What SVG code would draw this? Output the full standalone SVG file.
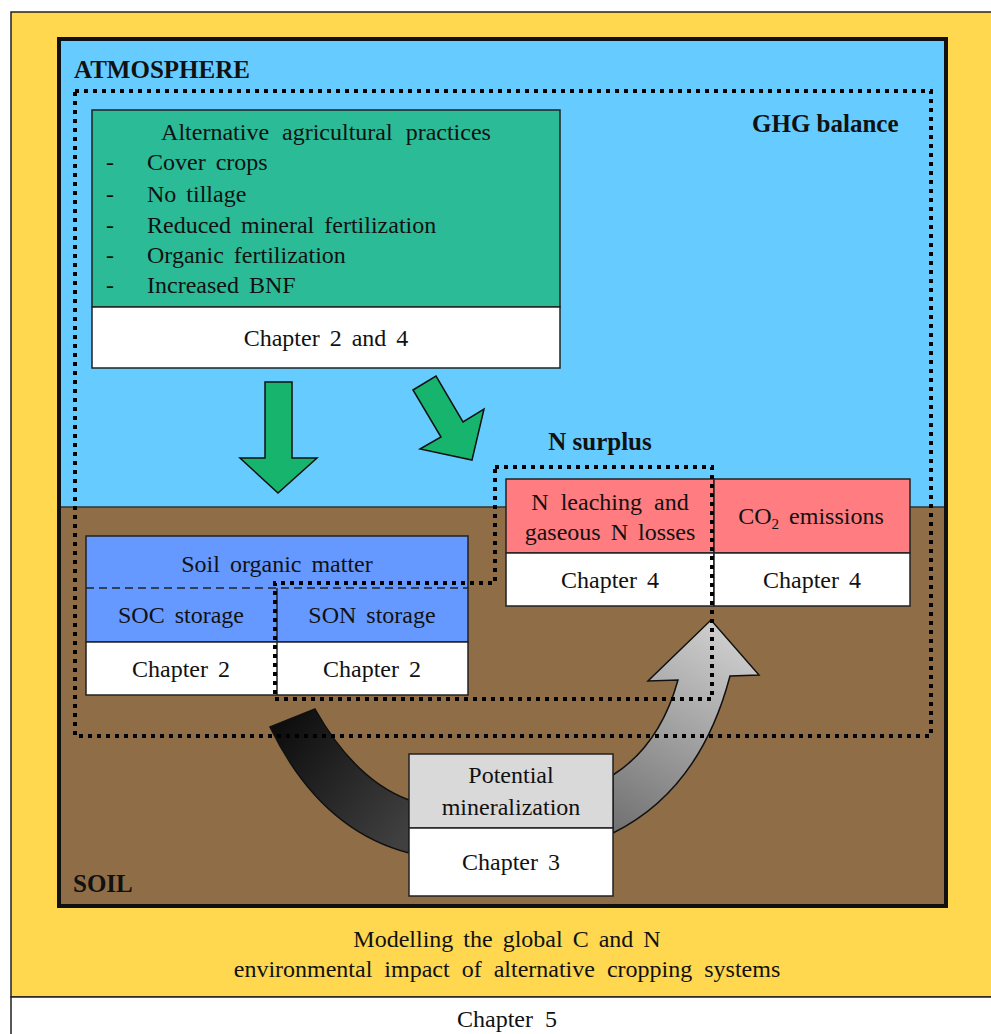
<svg xmlns="http://www.w3.org/2000/svg" width="991" height="1034" viewBox="0 0 991 1034" font-family="'Liberation Serif','Times New Roman',serif">
<defs>
<style>
text{font-family:"Liberation Serif","Times New Roman",serif;fill:#111;}
.t{font-size:24px;word-spacing:4px;}
.c{text-anchor:middle;}
.b{font-weight:bold;font-size:25px;}
.box{stroke:#222;stroke-width:1.5;}
.dot{fill:none;stroke:#000;stroke-width:4;stroke-dasharray:4 5;}
.arr{fill:#17B46E;stroke:#111;stroke-width:1.5;stroke-linejoin:miter;}
</style>
<linearGradient id="gBlack" x1="270" y1="720" x2="409" y2="830" gradientUnits="userSpaceOnUse">
<stop offset="0" stop-color="#0a0a0a"/>
<stop offset="1" stop-color="#404040"/>
</linearGradient>
<linearGradient id="gGrey" x1="613" y1="833" x2="735" y2="630" gradientUnits="userSpaceOnUse">
<stop offset="0" stop-color="#707070"/>
<stop offset="1" stop-color="#d0d0d0"/>
</linearGradient>
</defs>

<g id="frame">
<rect x="11" y="12" width="990" height="985" fill="#FFD84F" stroke="#222" stroke-width="1.5"/>
<rect x="59" y="39" width="887" height="468" fill="#66CCFF"/>
<rect x="59" y="507" width="887" height="399" fill="#8F6E47"/>
<line x1="59" y1="507" x2="946" y2="507" stroke="#333" stroke-width="1.5"/>
<rect x="59" y="39" width="887" height="867" fill="none" stroke="#111" stroke-width="4"/>
<text class="b" x="74" y="78">ATMOSPHERE</text>
<text class="b" x="73" y="892">SOIL</text>
<text class="t c" x="507" y="947" style="word-spacing:4px">Modelling the global C and N</text>
<text class="t c" x="507" y="977" style="word-spacing:6px">environmental impact of alternative cropping systems</text>
</g>

<g id="chapter5">
<rect x="11" y="997" width="990" height="50" fill="#fff" stroke="#222" stroke-width="1.5"/>
<text class="t c" x="507" y="1027" style="word-spacing:6px">Chapter 5</text>
</g>

<g id="practices">
<rect class="box" x="92" y="110" width="468" height="197" fill="#2BBB97"/>
<rect class="box" x="92" y="307" width="468" height="61" fill="#fff"/>
<text class="t c" x="326" y="140" style="word-spacing:7px">Alternative agricultural practices</text>
<g class="t">
<text x="106" y="170">-</text><text x="147" y="170" class="t">Cover crops</text>
<text x="106" y="202">-</text><text x="147" y="202" class="t">No tillage</text>
<text x="106" y="233">-</text><text x="147" y="233" class="t">Reduced mineral fertilization</text>
<text x="106" y="263">-</text><text x="147" y="263" class="t">Organic fertilization</text>
<text x="106" y="293">-</text><text x="147" y="293" class="t">Increased BNF</text>
</g>
<text class="t c" x="326" y="346">Chapter 2 and 4</text>
</g>

<g id="connectors">
<polygon class="arr" points="265,382 292,382 292,458 317,458 278,493 240,458 265,458"/>
<polygon class="arr" points="413,390 436,376 463,422 484,409 472,460 420,449 441,437"/>
<path d="M270,727 L315,709 Q355,780 409,800 L409,853 Q320,830 270,727 Z" fill="url(#gBlack)" stroke="#111" stroke-width="1.5"/>
<path d="M613,775 Q660,745 678,680 L648,681 L711,620 L759,675 L730,676 Q700,790 613,833 Z" fill="url(#gGrey)" stroke="#111" stroke-width="1.5"/>
</g>

<g id="nlosses">
<rect class="box" x="506" y="479" width="208" height="74" fill="#FF7C80"/>
<rect class="box" x="506" y="553" width="208" height="53" fill="#fff"/>
<text class="t c" x="610" y="510" style="word-spacing:6px">N leaching and</text>
<text class="t c" x="610" y="540">gaseous N losses</text>
<text class="t c" x="610" y="588">Chapter 4</text>
</g>

<g id="co2">
<rect class="box" x="714" y="479" width="196" height="74" fill="#FF7C80"/>
<rect class="box" x="714" y="553" width="196" height="53" fill="#fff"/>
<text class="t c" x="811" y="524">CO<tspan font-size="15" dy="5">2</tspan><tspan dy="-5"> emissions</tspan></text>
<text class="t c" x="812" y="588">Chapter 4</text>
</g>

<g id="som">
<rect class="box" x="86" y="536" width="382" height="106" fill="#6699FF"/>
<rect class="box" x="86" y="642" width="382" height="53" fill="#fff"/>
<line x1="86" y1="588" x2="468" y2="588" stroke="#222" stroke-width="1.5" stroke-dasharray="8 5"/>
<line x1="277" y1="588" x2="277" y2="695" stroke="#222" stroke-width="1.5"/>
<text class="t c" x="277" y="572">Soil organic matter</text>
<text class="t c" x="181" y="623">SOC storage</text>
<text class="t c" x="372" y="623">SON storage</text>
<text class="t c" x="181" y="677">Chapter 2</text>
<text class="t c" x="372" y="677">Chapter 2</text>
</g>

<g id="mineralization">
<rect class="box" x="409" y="754" width="204" height="74" fill="#D9D9D9"/>
<rect class="box" x="409" y="828" width="204" height="68" fill="#fff"/>
<text class="t c" x="511" y="783">Potential</text>
<text class="t c" x="511" y="815">mineralization</text>
<text class="t c" x="511" y="870">Chapter 3</text>
</g>

<g id="ghg">
<rect class="dot" x="75" y="91" width="856" height="645"/>
<text class="b" x="752" y="132">GHG balance</text>
</g>

<g id="nsurplus">
<polygon class="dot" points="495,467 712,467 712,699 275,699 275,583 495,583"/>
<text class="b c" x="600" y="450">N surplus</text>
</g>
</svg>
